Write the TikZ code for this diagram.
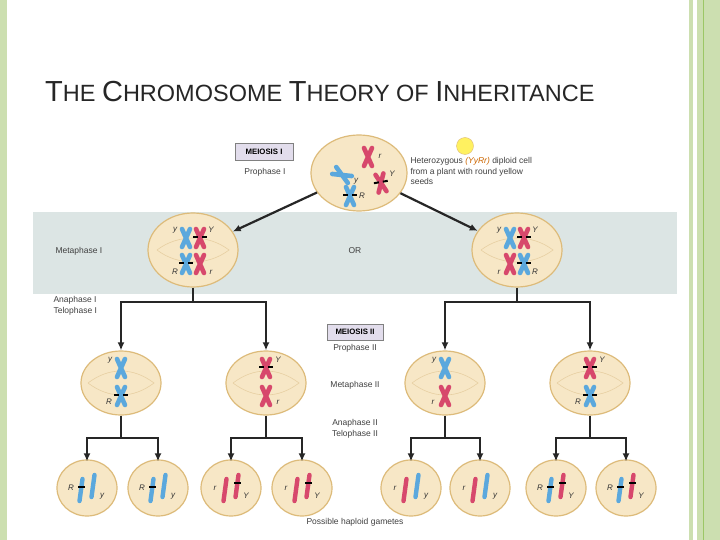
\documentclass[tikz,border=0pt]{standalone}
\usepackage{fontspec}
\setmainfont{Liberation Sans}
\usetikzlibrary{arrows.meta,shapes.geometric}
\begin{document}
\definecolor{cellf}{HTML}{F7E7C6}
\definecolor{celld}{HTML}{DDBB7A}
\definecolor{cb}{HTML}{5BA8DD}
\definecolor{cr}{HTML}{D7486C}
\definecolor{band}{HTML}{DCE5E4}
\definecolor{grn}{HTML}{CCDFB0}
\definecolor{grnd}{HTML}{9CC766}
\definecolor{boxf}{HTML}{E2DDEC}
\begin{tikzpicture}[x=1pt,y=-1pt,
  cell/.style={ellipse,draw=celld,fill=cellf,line width=1.2pt},
  lab/.style={font=\fontsize{8.5}{10.5}\selectfont,text=black!75},
  gl/.style={font=\itshape\fontsize{8}{9}\selectfont,text=black!80,inner sep=1pt},
  arr/.style={-{Latex[length=8pt,width=7pt]},line width=2.2pt,black!85},
  ln/.style={line width=2.2pt,black!85},
  mbox/.style={draw=black!50,line width=0.8pt,fill=boxf,font=\bfseries\fontsize{7.8}{9}\selectfont,minimum width=58pt,minimum height=17pt,inner sep=1pt},
  pics/xc/.style={code={
    \draw[line width=4.6pt,line cap=round,#1] (-4,-9)--(4,9) (4,-9)--(-4,9);}},
  pics/xcb/.style={code={
    \draw[line width=4.6pt,line cap=round,#1] (-4,-9)--(4,9) (4,-9)--(-4,9);
    \draw[line width=2pt,black] (-7,-1)--(-2,-1) (2,-1)--(7,-1);}},
  pics/rod/.style={code={
    \draw[line width=4.4pt,line cap=round,#1] (1.5,-11)--(-1.5,11);}},
  pics/rodb/.style={code={
    \draw[line width=4.4pt,line cap=round,#1] (1.5,-11)--(-1.5,11);
    \draw[line width=2pt,black] (-3,-3)--(3.5,-3);}}
]
\useasboundingbox (0,0) rectangle (720,540);
\fill[white] (0,0) rectangle (720,540);
% borders
\fill[grn] (0,0) rectangle (7,540);
\fill[grn] (689,0) rectangle (693,540);
\fill[grn] (697,0) rectangle (720,540);
\draw[grnd,line width=1pt] (703,0)--(703,540);
% title
\node[anchor=west,inner sep=0,text=black!85] (title) at (45,92) {\fontsize{29}{31}\selectfont T\fontsize{23.5}{26}\selectfont HE \fontsize{29}{31}\selectfont C\fontsize{23.5}{26}\selectfont HROMOSOME \fontsize{29}{31}\selectfont T\fontsize{23.5}{26}\selectfont HEORY OF \fontsize{29}{31}\selectfont I\fontsize{23.5}{26}\selectfont NHERITANCE};
% band
\fill[band] (33,212) rectangle (677,294);
% labels
\node[mbox] (m1) at (264,152) {MEIOSIS I};
\node[lab] (p1) at (265,172) {Prophase I};
\node[lab,anchor=west] (m1l) at (52,251) {Metaphase I};
\node[lab] (or) at (355,251) {OR};
\node[lab,anchor=west,align=left] (a1) at (50,306) {Anaphase I\\Telophase I};
\node[mbox,minimum width=56pt,minimum height=16pt] (m2) at (355,332) {MEIOSIS II};
\node[lab] (p2) at (355,348) {Prophase II};
\node[lab] (mt2) at (355,385) {Metaphase II};
\node[lab,align=center] (a2) at (355,429) {Anaphase II\\Telophase II};
\node[lab] (pg) at (355,522) {Possible haploid gametes};
\node[circle,fill=yellow!60!white!95!orange,draw=celld,minimum size=17pt,inner sep=0] (dot) at (465,146) {};
\node[lab,anchor=west,align=left] (het) at (407,171) {Heterozygous \textcolor{orange!80!black}{\itshape(YyRr)} diploid cell\\from a plant with round yellow\\seeds};
% cells
\node[cell,minimum width=96pt,minimum height=76pt] (c0) at (359,173) {};
\node[cell,minimum width=90pt,minimum height=74pt] (L) at (193,250) {};
\node[cell,minimum width=90pt,minimum height=74pt] (R) at (517,250) {};
\foreach \n/\x in {A/121,B/266,C/445,D/590}
  \node[cell,minimum width=80pt,minimum height=64pt] (\n) at (\x,383) {};
\foreach \n/\x in {g1/87,g2/158,g3/231,g4/302,g5/411,g6/480,g7/556,g8/626}
  \node[cell,minimum width=60pt,minimum height=56pt] (\n) at (\x,488) {};
% spindles
\foreach \n in {L,R}{\draw[celld!70,line width=0.6pt] ([xshift=-36pt]\n.center) .. controls ([xshift=-15pt,yshift=-16pt]\n.center) and ([xshift=15pt,yshift=-16pt]\n.center) .. ([xshift=36pt]\n.center) .. controls ([xshift=15pt,yshift=16pt]\n.center) and ([xshift=-15pt,yshift=16pt]\n.center) .. ([xshift=-36pt]\n.center);}
\foreach \n in {A,B,C,D}{\draw[celld!70,line width=0.6pt] ([xshift=-33pt]\n.center) .. controls ([xshift=-12pt,yshift=-16pt]\n.center) and ([xshift=12pt,yshift=-16pt]\n.center) .. ([xshift=33pt]\n.center) .. controls ([xshift=12pt,yshift=16pt]\n.center) and ([xshift=-12pt,yshift=16pt]\n.center) .. ([xshift=-33pt]\n.center);}
% top cell chromosomes
\pic at (368,157) {xc=cr};  \node[gl] (t1) at (380,156) {r};
\pic[rotate=60] at (342,175) {xc=cb}; \node[gl] (t2) at (356,181) {y};
\pic[rotate=10] at (381,183) {xcb=cr}; \node[gl] (t3) at (392,174) {Y};
\pic at (350,196) {xcb=cb}; \node[gl] (t4) at (362,196) {R};
% metaphase I
\pic at (186,238) {xc=cb}; \pic at (200,238) {xcb=cr};
\node[gl] at (175,230) {y}; \node[gl] at (211,230) {Y};
\pic at (186,264) {xcb=cb}; \pic at (200,264) {xc=cr};
\node[gl] at (175,272) {R}; \node[gl] at (211,272) {r};
\pic at (510,238) {xc=cb}; \pic at (524,238) {xcb=cr};
\node[gl] at (499,230) {y}; \node[gl] at (535,230) {Y};
\pic at (510,264) {xc=cr}; \pic at (524,264) {xcb=cb};
\node[gl] at (499,272) {r}; \node[gl] at (535,272) {R};
% metaphase II
\pic at (121,368) {xc=cb}; \node[gl] at (110,360) {y};
\pic at (121,396) {xcb=cb}; \node[gl] at (109,402) {R};
\pic at (266,368) {xcb=cr}; \node[gl] at (278,360) {Y};
\pic at (266,396) {xc=cr}; \node[gl] at (278,402) {r};
\pic at (445,368) {xc=cb}; \node[gl] at (434,360) {y};
\pic at (445,396) {xc=cr}; \node[gl] at (433,402) {r};
\pic at (590,368) {xcb=cr}; \node[gl] at (602,360) {Y};
\pic at (590,396) {xcb=cb}; \node[gl] at (578,402) {R};
% gametes
\foreach \g/\a/\b/\la/\lb/\ta/\tb in {g1/cb/cb/R/y/rodb/rod,g2/cb/cb/R/y/rodb/rod,g3/cr/cr/r/Y/rod/rodb,g4/cr/cr/r/Y/rod/rodb,g5/cr/cb/r/y/rod/rod,g6/cr/cb/r/y/rod/rod,g7/cb/cr/R/Y/rodb/rodb,g8/cb/cr/R/Y/rodb/rodb}{
  \pic at ([xshift=-6pt,yshift=-2pt]\g.center) {\ta=\a};
  \pic at ([xshift=6pt,yshift=2pt]\g.center) {\tb=\b};
  \node[gl] at ([xshift=-16pt,yshift=0pt]\g.center) {\la};
  \node[gl] at ([xshift=15pt,yshift=-8pt]\g.center) {\lb};
}
% arrows
\draw[arr] (c0) -- (L);
\draw[arr] (c0) -- (R);
\foreach \p/\l/\r in {L/A/B,R/C/D}{
  \draw[ln] (\p.south) -- ++(0,14) coordinate (\p j);
  \draw[ln] ([xshift=-1pt]\l.north |- \p j) -- ([xshift=1pt]\r.north |- \p j);
  \draw[arr] (\l.north |- \p j) -- (\l.north);
  \draw[arr] (\r.north |- \p j) -- (\r.north);}
\foreach \p/\l/\r in {A/g1/g2,B/g3/g4,C/g5/g6,D/g7/g8}{
  \draw[ln] (\p.south) -- ++(0,22) coordinate (\p j);
  \draw[ln] ([xshift=-1pt]\l.north |- \p j) -- ([xshift=1pt]\r.north |- \p j);
  \draw[arr] (\l.north |- \p j) -- ([yshift=-2pt]\l.north);
  \draw[arr] (\r.north |- \p j) -- ([yshift=-2pt]\r.north);}
\end{tikzpicture}
\end{document}
